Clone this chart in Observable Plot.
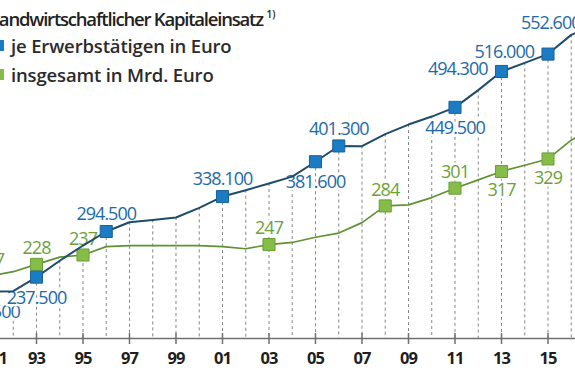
<!DOCTYPE html>
<html><head><meta charset="utf-8">
<script src="https://cdn.jsdelivr.net/npm/d3@7"></script>
<script src="https://cdn.jsdelivr.net/npm/@observablehq/plot@0.6"></script>
<style>
html,body{margin:0;padding:0;background:#fff;overflow:hidden;width:575px;height:383px}
#wrap{position:relative;width:575px;height:383px;overflow:hidden}
#wrap svg{position:absolute;left:0;top:0}
#wrap svg text{letter-spacing:-1px}
.t{position:absolute;white-space:nowrap;font-family:"Open Sans",sans-serif;font-weight:600;color:#2a2a2a}
.sw{position:absolute;width:11px;height:11px}
</style></head>
<body><div id="wrap"></div>
<script>
// ---- data ----
const years = [1991,1992,1993,1994,1995,1996,1997,1998,1999,2000,2001,2002,2003,2004,2005,2006,2007,2008,2009,2010,2011,2012,2013,2014,2015,2016,2017];
// Kapitaleinsatz je Erwerbstätigen in Euro
const perWorker = [219500,220000,237500,258000,277000,294500,306000,309000,312000,324000,338100,346000,354500,363000,381600,401300,401000,416000,428000,438000,449500,471000,494300,505000,516000,540000,552600];
// Kapitaleinsatz insgesamt in Mrd. Euro
const total = [217,221,228,235,237,245,246,246,246,246,245,243,247,249,254,258,268,284,285,292,301,309,317,323,329,347,360];
const blueMarked = [1991,1993,1996,2001,2005,2006,2011,2013,2015,2017];
const bluePos = ["below","below","above","above","below","above","below","left","left","left"];
const greenMarked = [1991,1993,1995,2003,2008,2011,2013,2015];
const greenPos = ["above","above","above","above","above","above","below","below"];
const tickYears = [1991,1993,1995,1997,1999,2001,2003,2005,2007,2009,2011,2013,2015,2017];
const gridYears = [1992,1993,1994,1995,1996,1997,1998,1999,2000,2001,2002,2003,2004,2005,2006,2007,2008,2009,2010,2011,2012,2013,2014,2015,2016];
const titleText = "Landwirtschaftlicher Kapitaleinsatz";
const legendTexts = ["je Erwerbstätigen in Euro", "insgesamt in Mrd. Euro"];

// ---- build ----
const fmt = d3.formatLocale({decimal: ",", thousands: ".", grouping: [3], currency: ["", ""]}).format(",");
const rows = years.map((y, i) => ({year: y, blue: perWorker[i], green: total[i]}));
const byYear = new Map(rows.map(r => [r.year, r]));
const blueLab = blueMarked.map((y, i) => ({year: y, value: byYear.get(y).blue, pos: bluePos[i]}));
const greenLab = greenMarked.map((y, i) => ({year: y, value: byYear.get(y).green, pos: greenPos[i]}));
const gridRows = gridYears.map(y => byYear.get(y));

const xDomain = [1991.452, 2016.183];
const blueDomain = [160920, 582890];
const greenDomain = [157.0, 480.8];
const FONT = '"Open Sans",sans-serif';
const BLUE = "#1b7cc4", BLUE_LINE = "#1f4b6b", BLUE_TXT = "#1d6aa6";
const GREEN = "#86bc48", GREEN_LINE = "#5f9232", GREEN_TXT = "#6aa23a";

const common = {width: 575, height: 383, marginLeft: 0, marginRight: 0, marginTop: 0, marginBottom: 45,
  x: {domain: xDomain, axis: null, label: null}, style: {background: "transparent", overflow: "visible", fontFamily: FONT}};

const labelMarks = (data, color, offBelow, offAbove) => [
  Plot.text(data.filter(d => d.pos === "above"), {x: "year", y: "value", text: d => fmt(d.value), dy: offAbove, fill: color, stroke: "white", strokeWidth: 5, fontSize: 18}),
  Plot.text(data.filter(d => d.pos === "below"), {x: "year", y: "value", text: d => fmt(d.value), dy: offBelow, fill: color, stroke: "white", strokeWidth: 5, fontSize: 18}),
  Plot.text(data.filter(d => d.pos === "left"), {x: "year", y: "value", text: d => fmt(d.value), dx: -14, dy: -2, textAnchor: "end", fill: color, stroke: "white", strokeWidth: 5, fontSize: 18})
];

const layerA = Plot.plot({...common, y: {domain: blueDomain, axis: null},
  marks: [
    Plot.ruleX(gridRows, {x: "year", y1: "blue", y2: blueDomain[0], stroke: "#858585", strokeDasharray: "3,3", strokeWidth: 1}),
    Plot.ruleY([blueDomain[0]], {stroke: "#707070", strokeWidth: 1.5}),
    Plot.ruleX(tickYears, {x: d => d, y1: blueDomain[0], y2: blueDomain[0] + 6200, stroke: "#707070", strokeWidth: 1.5}),
    Plot.axisX(tickYears, {tickSize: 6, tickPadding: 8, label: null, tickFormat: d => (d === 1991 || d === 2017) ? String(d) : String(d).slice(2),
      fontSize: 16.5, fontWeight: "bold", fill: "#1e1e1e", stroke: "#707070", strokeWidth: 1.5})
  ]});

const layerB = Plot.plot({...common, y: {domain: greenDomain, axis: null},
  marks: [
    ...labelMarks(greenLab, GREEN_TXT, 19, -16),
    Plot.line(rows, {x: "year", y: "green", stroke: GREEN_LINE, strokeWidth: 1.7}),
    Plot.dot(greenLab, {x: "year", y: "value", symbol: "square", r: 6.8, fill: GREEN, stroke: "#679f33", strokeWidth: 1})
  ]});

const layerC = Plot.plot({...common, y: {domain: blueDomain, axis: null},
  marks: [
    ...labelMarks(blueLab, BLUE_TXT, 21, -17),
    Plot.line(rows, {x: "year", y: "blue", stroke: BLUE_LINE, strokeWidth: 2}),
    Plot.dot(blueLab, {x: "year", y: "value", symbol: "square", r: 6.8, fill: BLUE, stroke: "#16619a", strokeWidth: 1})
  ]});

const wrap = document.getElementById("wrap");
wrap.append(layerA, layerB, layerC);

// title & legend (HTML)
const title = document.createElement("div");
title.className = "t";
title.style.cssText = "left:-10px;top:4px;font-size:18.5px;line-height:20px;letter-spacing:-1.2px;color:#222";
title.innerHTML = titleText + ' <sup style="font-size:10px;vertical-align:8px;letter-spacing:0">1)</sup>';
wrap.append(title);
[[BLUE, 36, 0], [GREEN, 65, 1]].forEach(([c, top, i]) => {
  const sw = document.createElement("div");
  sw.className = "sw";
  sw.style.cssText = `left:-7px;top:${top + 4}px;background:${c}`;
  wrap.append(sw);
  const t = document.createElement("div");
  t.className = "t";
  t.style.cssText = `left:11px;top:${top}px;font-size:18.5px;line-height:20px;letter-spacing:-0.15px;color:#2b2b2b`;
  t.textContent = legendTexts[i];
  wrap.append(t);
});
</script></body></html>
